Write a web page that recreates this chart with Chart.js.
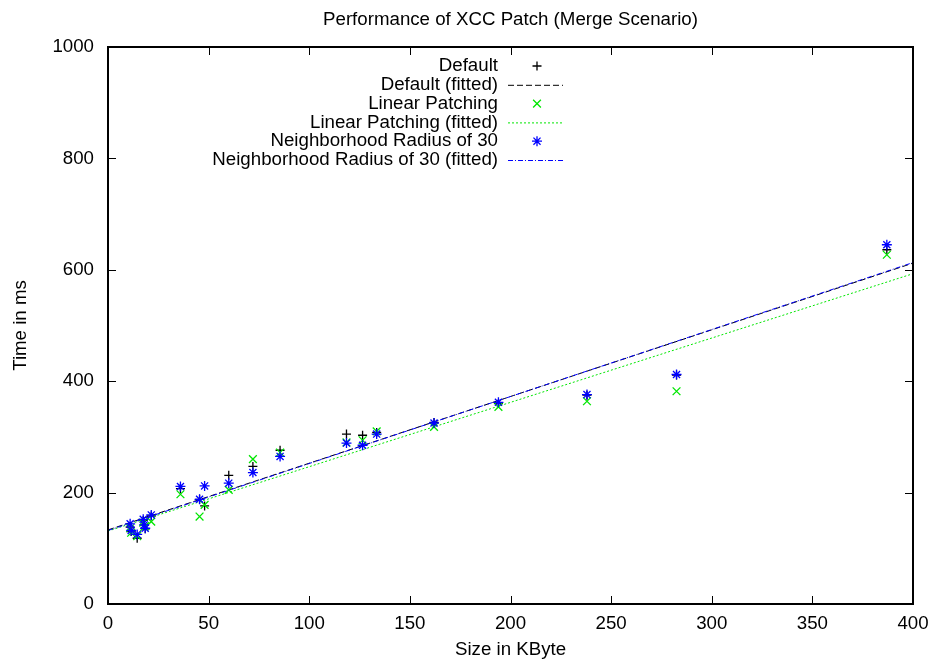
<!DOCTYPE html>
<html lang="en">
<head>
<meta charset="UTF-8">
<title>Performance of XCC Patch (Merge Scenario)</title>
<style>
  html, body { margin: 0; padding: 0; background: #fff; }
</style>
</head>
<body>
<canvas id="chart" width="934" height="662"></canvas>

<script src="https://cdn.jsdelivr.net/npm/chart.js"></script>
<script>
// file sizes in KByte
const sizes = [11, 11.5, 14.5, 17.5, 18, 18.5, 21.5, 36, 45.5, 48, 60, 72, 85.5, 118.5, 126.5, 133.5, 162, 194, 238, 282.5, 387];
// times in ms
const defaultTimes = [138, 130, 118, 150, 142, 135, 158, 207, 188, 176, 231, 247, 276, 305, 303, 308, 326, 360, 375, 411, 636];
const linearTimes = [136, 128, 122, 146, 138, 140, 148, 197, 157, 178, 205, 260, 272, 290, 294, 310, 318, 354, 364, 382, 627];
const radiusTimes = [144, 132, 125, 152, 142, 136, 160, 211, 188, 212, 217, 236, 265, 289, 285, 305, 325, 362, 376, 412, 645];

// fitted lines, evaluated at both ends of the x range
const fitRange = [0, 400];
const defaultFit = [133, 612];
const linearFit = [131, 593];
const radiusFit = [132, 613];

const xTicks = [0, 50, 100, 150, 200, 250, 300, 350, 400];
const yTicks = [0, 200, 400, 600, 800, 1000];

const FONT = '"Liberation Sans", Arial, sans-serif';
const FSIZE = 18.7;
const GREEN = '#00e600';
const BLUE = '#0000ff';

const pts = (xs, ys) => xs.map((x, i) => ({ x: x, y: ys[i] }));

function drawMarker(ctx, style, x, y, r) {
    ctx.beginPath();
    if (style === 'cross' || style === 'star') {
        ctx.moveTo(x - r, y); ctx.lineTo(x + r, y);
        ctx.moveTo(x, y - r); ctx.lineTo(x, y + r);
    }
    if (style === 'crossRot' || style === 'star') {
        const d = r * Math.SQRT1_2;
        ctx.moveTo(x - d, y - d); ctx.lineTo(x + d, y + d);
        ctx.moveTo(x - d, y + d); ctx.lineTo(x + d, y - d);
    }
    ctx.stroke();
}

// gnuplot look: frame, inward mirrored ticks, title and key
const gnuplotFrame = {
    id: 'gnuplotFrame',
    afterDraw(chart) {
        const { ctx, chartArea: a, scales } = chart;
        ctx.save();
        ctx.strokeStyle = '#000';
        ctx.lineWidth = 1;
        ctx.setLineDash([]);
        ctx.beginPath();
        xTicks.forEach(v => {
            const px = Math.round(scales.x.getPixelForValue(v)) + 0.5;
            ctx.moveTo(px, a.bottom); ctx.lineTo(px, a.bottom - 8);
            ctx.moveTo(px, a.top); ctx.lineTo(px, a.top + 8);
        });
        yTicks.forEach(v => {
            const py = Math.round(scales.y.getPixelForValue(v)) + 0.5;
            ctx.moveTo(a.left, py); ctx.lineTo(a.left + 8, py);
            ctx.moveTo(a.right, py); ctx.lineTo(a.right - 8, py);
        });
        ctx.stroke();
        ctx.lineWidth = 2;
        ctx.strokeRect(a.left, a.top, a.right - a.left, a.bottom - a.top);

        ctx.fillStyle = '#000';
        ctx.font = FSIZE + 'px ' + FONT;
        ctx.textAlign = 'center';
        ctx.textBaseline = 'middle';
        ctx.fillText('Performance of XCC Patch (Merge Scenario)', (a.left + a.right) / 2, 20);

        // key
        const textRight = 498, sx0 = 508, sx1 = 563, sxm = 537;
        let ky = 66;
        ctx.textAlign = 'right';
        chart.data.datasets.forEach(ds => {
            ctx.fillStyle = '#000';
            ctx.fillText(ds.label, textRight, ky);
            ctx.strokeStyle = ds.borderColor;
            ctx.lineWidth = ds.borderWidth;
            if (ds.showLine) {
                ctx.setLineDash(ds.borderDash || []);
                ctx.beginPath();
                ctx.moveTo(sx0, ky + 0.5); ctx.lineTo(sx1, ky + 0.5);
                ctx.stroke();
                ctx.setLineDash([]);
            } else {
                drawMarker(ctx, ds.pointStyle, sxm, ky, ds.pointRadius);
            }
            ky += 18.8;
        });
        ctx.restore();
    }
};

const tickFont = { family: FONT, size: FSIZE };

new Chart(document.getElementById('chart'), {
    type: 'scatter',
    data: {
        datasets: [{
            label: 'Default',
            data: pts(sizes, defaultTimes),
            pointStyle: 'cross',
            pointRadius: 4.5,
            borderColor: '#000',
            borderWidth: 1.3,
            order: 6
        }, {
            label: 'Default (fitted)',
            data: pts(fitRange, defaultFit),
            showLine: true,
            pointRadius: 0,
            borderColor: '#000',
            borderWidth: 1,
            borderDash: [6, 3],
            order: 5
        }, {
            label: 'Linear Patching',
            data: pts(sizes, linearTimes),
            pointStyle: 'crossRot',
            pointRadius: 5.5,
            borderColor: GREEN,
            borderWidth: 1.3,
            order: 4
        }, {
            label: 'Linear Patching (fitted)',
            data: pts(fitRange, linearFit),
            showLine: true,
            pointRadius: 0,
            borderColor: GREEN,
            borderWidth: 1,
            borderDash: [2, 2],
            order: 3
        }, {
            label: 'Neighborhood Radius of 30',
            data: pts(sizes, radiusTimes),
            pointStyle: 'star',
            pointRadius: 5,
            borderColor: BLUE,
            borderWidth: 1.3,
            order: 2
        }, {
            label: 'Neighborhood Radius of 30 (fitted)',
            data: pts(fitRange, radiusFit),
            showLine: true,
            pointRadius: 0,
            borderColor: BLUE,
            borderWidth: 1,
            borderDash: [5, 2, 1, 2],
            order: 1
        }]
    },
    options: {
        responsive: false,
        animation: false,
        events: [],
        layout: { padding: { top: 47, right: 21, left: 0, bottom: 0 } },
        plugins: {
            legend: { display: false },
            title: { display: false },
            tooltip: { enabled: false }
        },
        scales: {
            x: {
                type: 'linear',
                min: 0,
                max: 400,
                afterFit: s => { s.height = 58; s.paddingRight = 0; s.paddingLeft = 0; },
                afterBuildTicks: s => { s.ticks = xTicks.map(v => ({ value: v })); },
                grid: { display: false, drawTicks: false },
                border: { display: false },
                ticks: { color: '#000', padding: 9, maxRotation: 0, font: tickFont, callback: v => String(v) },
                title: {
                    display: true,
                    text: 'Size in KByte',
                    color: '#000',
                    padding: { top: 0, bottom: 1 },
                    font: tickFont
                }
            },
            y: {
                type: 'linear',
                min: 0,
                max: 1000,
                afterFit: s => { s.width = 108; s.paddingTop = 0; s.paddingBottom = 0; },
                afterBuildTicks: s => { s.ticks = yTicks.map(v => ({ value: v })); },
                grid: { display: false, drawTicks: false },
                border: { display: false },
                ticks: { color: '#000', padding: 14, font: tickFont, callback: v => String(v) },
                title: {
                    display: true,
                    text: 'Time in ms',
                    color: '#000',
                    padding: { top: 10, bottom: 0 },
                    font: tickFont
                }
            }
        }
    },
    plugins: [gnuplotFrame]
});
</script>
</body>
</html>
